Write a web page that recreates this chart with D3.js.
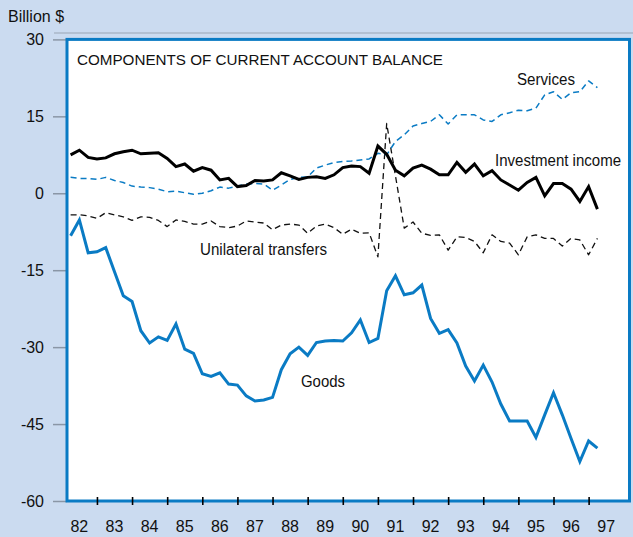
<!DOCTYPE html>
<html>
<head>
<meta charset="utf-8">
<script src="https://cdn.jsdelivr.net/npm/d3@7"></script>
<style>
  html, body { margin: 0; padding: 0; background: #cbdbf0; }
  svg { display: block; }
  text { font-family: "Liberation Sans", Arial, Helvetica, sans-serif; fill: #111; }
</style>
</head>
<body>
<svg id="chart" width="633" height="537"></svg>
<script>
// ---- data (billion $, quarterly, 1982Q1 .. 1997Q1) ----
const startYear = 1982;
const yearLabels = ["82","83","84","85","86","87","88","89","90","91","92","93","94","95","96","97"];
const yTicks = [30, 15, 0, -15, -30, -45, -60];

const goods = [
  -8.3, -5.2, -11.6, -11.4, -10.6, -15.3, -20.0, -21.1, -26.8, -29.2,
  -28.0, -28.7, -25.5, -30.4, -31.2, -35.2, -35.7, -35.0, -37.2, -37.4,
  -39.5, -40.5, -40.3, -39.8, -34.4, -31.3, -30.0, -31.6, -29.1, -28.8,
  -28.7, -28.8, -27.2, -24.7, -29.1, -28.3, -19.0, -16.1, -19.8, -19.4,
  -17.9, -24.4, -27.3, -26.6, -29.2, -33.7, -36.6, -33.5, -36.8, -41.1,
  -44.4, -44.4, -44.4, -47.6, -43.2, -38.9, -43.2, -47.8, -52.3, -48.3,
  -49.7
];
const investmentIncome = [
  7.5, 8.4, 7.0, 6.7, 6.9, 7.7, 8.1, 8.4, 7.7, 7.8,
  7.9, 6.8, 5.2, 5.7, 4.3, 5.0, 4.5, 2.6, 2.9, 1.3,
  1.5, 2.5, 2.4, 2.6, 4.0, 3.4, 2.7, 3.1, 3.2, 2.9,
  3.6, 5.0, 5.3, 5.2, 3.9, 9.2, 7.6, 4.5, 3.4, 4.9,
  5.5, 4.7, 3.6, 3.6, 6.0, 4.1, 5.7, 3.4, 4.4, 2.6,
  1.6, 0.6, 2.1, 3.1, -0.5, 1.9, 1.9, 0.8, -1.6, 1.3,
  -3.1
];
const services = [
  3.1, 2.9, 2.9, 2.7, 3.1, 2.5, 2.1, 1.4, 1.2, 1.1,
  0.8, 0.3, 0.4, 0.1, -0.2, 0.0, 0.5, 1.2, 1.0, 1.4,
  1.8, 1.9, 1.8, 0.6, 1.6, 2.7, 3.1, 3.2, 4.9, 5.5,
  6.0, 6.2, 6.3, 6.5, 6.7, 7.8, 7.5, 10.1, 11.4, 13.1,
  13.6, 14.0, 15.3, 13.5, 15.3, 15.3, 15.3, 14.3, 14.0, 15.3,
  15.7, 16.2, 16.1, 16.6, 19.2, 19.8, 18.3, 19.6, 19.8, 21.9,
  20.6
];
const unilateralTransfers = [
  -4.2, -4.2, -4.4, -4.9, -3.8, -4.2, -4.6, -5.3, -4.6, -4.7,
  -5.3, -6.5, -5.2, -5.5, -6.0, -6.0, -5.4, -6.5, -6.7, -6.4,
  -5.4, -5.6, -5.8, -7.1, -6.2, -6.0, -6.2, -7.8, -6.4, -6.0,
  -6.7, -8.0, -7.0, -7.8, -7.7, -12.4, 13.6, 3.4, -6.8, -5.6,
  -7.8, -8.2, -8.1, -11.1, -8.5, -8.6, -9.4, -11.6, -8.1, -9.4,
  -9.7, -12.0, -8.5, -8.1, -8.8, -8.8, -10.3, -8.8, -9.1, -12.0,
  -8.8
];
const seriesLabels = ["Goods", "Investment income", "Services", "Unilateral transfers"];
const titleText = "COMPONENTS OF CURRENT ACCOUNT BALANCE";
const unitText = "Billion $";

// ---- layout ----
const W = 633, H = 537;
const frame = { left: 67, right: 629.5 };
const blue = "#0a7bc4";

const svg = d3.select("#chart");
svg.append("rect").attr("width", W).attr("height", H).attr("fill", "#cbdbf0");

// quarter dates (plotted at quarter end)
const dateOf = i => startYear + (i + 1) / 4;

const x = d3.scaleLinear().domain([1982.25, 1997.25]).range([70.6, 597.4]);
const y = d3.scaleLinear().domain([-60, 30]).range([501, 39.4]);

// top rule
svg.append("line").attr("x1", 54).attr("x2", W).attr("y1", 33).attr("y2", 33)
  .attr("stroke", "#9aa6b4").attr("stroke-width", 1.2);

// plot background
svg.append("rect")
  .attr("x", frame.left).attr("y", y(30))
  .attr("width", frame.right - frame.left).attr("height", y(-60) - y(30))
  .attr("fill", "#ffffff");

// y axis stubs + labels
const yAxis = d3.axisLeft(y).tickValues(yTicks).tickSize(14).tickPadding(9)
  .tickFormat(d => String(d));
const gy = svg.append("g").attr("transform", `translate(${frame.left},0)`).call(yAxis);
gy.select(".domain").remove();
gy.selectAll(".tick line").attr("stroke", "#8a96a6").attr("stroke-width", 1.5);
gy.selectAll(".tick text").attr("font-size", 16).attr("fill", "#111")
  .attr("font-family", "Liberation Sans, Arial, sans-serif");

// title & unit
svg.append("text").attr("x", 8).attr("y", 22).attr("font-size", 16).text(unitText);
svg.append("text").attr("x", 77).attr("y", 65).attr("font-size", 15.5)
  .attr("textLength", 366).attr("lengthAdjust", "spacingAndGlyphs").text(titleText);

// lines
const line = d3.line().x((d, i) => x(dateOf(i))).y(d => y(d));

svg.append("path").datum(unilateralTransfers).attr("d", line)
  .attr("fill", "none").attr("stroke", "#111").attr("stroke-width", 1.3)
  .attr("stroke-dasharray", "6,4").attr("stroke-linejoin", "round");
svg.append("path").datum(services).attr("d", line)
  .attr("fill", "none").attr("stroke", blue).attr("stroke-width", 1.5)
  .attr("stroke-dasharray", "6,4").attr("stroke-linejoin", "round");
svg.append("path").datum(investmentIncome).attr("d", line)
  .attr("fill", "none").attr("stroke", "#000").attr("stroke-width", 3)
  .attr("stroke-linejoin", "miter");
svg.append("path").datum(goods).attr("d", line)
  .attr("fill", "none").attr("stroke", blue).attr("stroke-width", 3)
  .attr("stroke-linejoin", "miter");

// frame border
svg.append("rect")
  .attr("x", frame.left).attr("y", y(30))
  .attr("width", frame.right - frame.left).attr("height", y(-60) - y(30))
  .attr("fill", "none").attr("stroke", blue).attr("stroke-width", 3);

// x ticks at year boundaries
const years = d3.range(1983, 1998);
const xAxis = d3.axisBottom(x).tickValues(years).tickSize(8).tickFormat("");
const gx = svg.append("g").attr("transform", `translate(0,${y(-60) - 4})`).call(xAxis);
gx.select(".domain").remove();
gx.selectAll(".tick line").attr("stroke", "#000").attr("stroke-width", 1.6);

// year labels, centred in each year
svg.append("g").selectAll("text").data(yearLabels).join("text")
  .attr("x", (d, i) => x(startYear + i + 0.5))
  .attr("y", 532)
  .attr("text-anchor", "middle")
  .attr("font-size", 16)
  .text(d => d);

// series labels
const labelPos = [
  { t: seriesLabels[0], x: 301, y: 387, w: 44 },
  { t: seriesLabels[1], x: 495, y: 166, w: 126 },
  { t: seriesLabels[2], x: 517, y: 85, w: 58 },
  { t: seriesLabels[3], x: 200, y: 255, w: 127 }
];
svg.append("g").selectAll("text").data(labelPos).join("text")
  .attr("x", d => d.x).attr("y", d => d.y)
  .attr("font-size", 16)
  .attr("textLength", d => d.w).attr("lengthAdjust", "spacingAndGlyphs")
  .text(d => d.t);
</script>
</body>
</html>
